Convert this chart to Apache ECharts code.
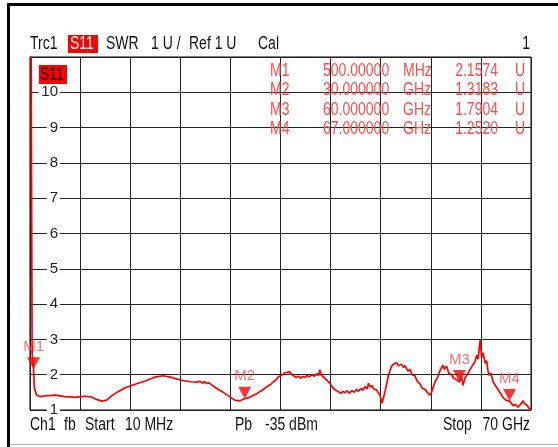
<!DOCTYPE html>
<html>
<head>
<meta charset="utf-8">
<title>Trc1 S11 SWR</title>
<script src="https://cdn.jsdelivr.net/npm/echarts@6/dist/echarts.min.js"></script>
<style>
html, body { margin: 0; padding: 0; background: #fff; }
#swr-chart { width: 558px; height: 447px; }
</style>
</head>
<body>
<div id="swr-chart"></div>
<script>
// trace data, frequency in GHz, SWR in U
var freqGHz = [0.01, 0.3, 0.5, 0.61, 0.94, 1.41, 2.1, 2.8, 3.5, 4.2, 4.9, 5.6, 6.3, 7.0, 7.7, 8.6, 9.3, 10.0, 10.7, 11.4,
    12.3, 13.3, 14.7, 16.1, 17.4, 18.6, 19.6, 21.0, 22.4, 23.2, 23.8, 24.1, 24.4, 24.7, 25.0, 25.4, 26.1, 27.0, 27.9, 28.6,
    29.3, 30.0, 30.6, 31.2, 31.6, 32.1, 32.6, 33.1, 33.6, 34.0, 34.4, 34.7, 35.2, 35.5, 35.9, 36.1, 36.3, 36.6, 36.9, 37.2,
    37.5, 37.8, 38.1, 38.4, 38.7, 39.0, 39.4, 39.7, 40.1, 40.3, 40.5, 40.7, 41.0, 41.4, 41.7, 42.0, 42.4, 42.8, 43.1, 43.4,
    43.7, 44.0, 44.3, 44.6, 45.0, 45.3, 45.6, 45.9, 46.2, 46.5, 46.8, 47.1, 47.3, 47.5, 47.8, 48.0, 48.4, 48.7, 48.9, 49.2,
    49.6, 50.1, 50.5, 50.8, 51.2, 51.5, 51.9, 52.2, 52.4, 52.8, 53.1, 53.4, 53.8, 54.1, 54.5, 54.8, 55.2, 55.5, 55.9, 56.1,
    56.3, 56.6, 57.0, 57.3, 57.7, 57.9, 58.2, 58.5, 58.9, 59.2, 59.6, 60.0, 60.3, 60.5, 60.8, 61.1, 61.5, 61.8, 62.2, 62.4,
    62.6, 62.9, 63.1, 63.3, 63.6, 63.8, 64.0, 64.2, 64.4, 64.7, 65.0, 65.4, 65.7, 66.1, 66.5, 67.0, 67.3, 67.5, 67.8, 68.2,
    68.5, 68.9, 69.1, 69.4, 69.7, 70.0];
var swrVal = [20, 2.6, 2.157, 1.62, 1.42, 1.38, 1.40, 1.41, 1.42, 1.40, 1.38, 1.37, 1.36, 1.38, 1.39, 1.37, 1.30, 1.25, 1.28, 1.40,
    1.52, 1.63, 1.73, 1.82, 1.93, 1.97, 1.93, 1.85, 1.80, 1.79, 1.81, 1.76, 1.80, 1.75, 1.77, 1.71, 1.61, 1.50, 1.38, 1.28,
    1.26, 1.318, 1.35, 1.42, 1.45, 1.52, 1.58, 1.66, 1.72, 1.80, 1.86, 1.94, 1.99, 2.04, 2.07, 2.02, 2.08, 2.00, 1.96, 1.92,
    1.96, 1.90, 1.95, 1.92, 1.98, 1.94, 2.00, 1.95, 2.03, 1.97, 2.14, 1.98, 1.94, 1.86, 1.80, 1.72, 1.61, 1.55, 1.52, 1.47,
    1.53, 1.49, 1.54, 1.48, 1.55, 1.50, 1.58, 1.53, 1.61, 1.56, 1.66, 1.60, 1.76, 1.65, 1.70, 1.60, 1.57, 1.48, 1.42, 1.19,
    1.52, 1.99, 2.23, 2.30, 2.34, 2.25, 2.30, 2.20, 2.26, 2.10, 2.15, 2.00, 1.96, 1.82, 1.74, 1.62, 1.59, 1.50, 1.42, 1.50,
    1.62, 1.80, 1.94, 2.12, 2.27, 2.15, 2.25, 2.05, 2.00, 1.90, 1.86, 1.79, 1.95, 1.70, 1.92, 2.00, 2.15, 2.25, 2.38, 2.55,
    2.45, 2.98, 2.50, 2.62, 2.32, 2.40, 2.10, 1.98, 2.05, 1.80, 1.70, 1.58, 1.48, 1.35, 1.28, 1.252, 1.18, 1.12, 1.16, 1.08,
    1.15, 1.26, 1.18, 1.14, 1.06, 1.0];

// markers
var markerNames = ['M1', 'M2', 'M3', 'M4'];
var markerFreq = [0.5, 30, 60, 67];
var markerSwr = [2.1574, 1.3183, 1.7904, 1.2520];
var markerFreqText = ['500.00000', '30.000000', '60.000000', '67.000000'];
var markerUnit = ['MHz', 'GHz', 'GHz', 'GHz'];

// axes
var xMin = 0, xMax = 70, xStep = 7;
var yMin = 1, yMax = 11, yStep = 1;

var FONT = 'Liberation Sans, Arial, sans-serif';
var MARK_RED = '#ff4a4a';

function SwrChart() {
    this.init();
}
SwrChart.prototype = {
    constructor: SwrChart,
    init: function () {
        var that = this;
        that.chart = echarts.init(document.getElementById('swr-chart'), null, {renderer: 'canvas'});
        that.chart.setOption(that.getOption());
    },
    // text helper
    txt: function (s, x, y, color, align, size) {
        return {
            type: 'text', x: x, y: y, scaleY: 1.25, z: 10,
            style: {
                text: s, fill: color || '#111', textAlign: align || 'left', textVerticalAlign: 'middle',
                font: (size || 14) + 'px ' + FONT
            }
        };
    },
    getGraphic: function () {
        var that = this;
        var g = [];
        // frame
        g.push({type: 'rect', shape: {x: 7, y: 3, width: 551, height: 3}, style: {fill: '#000'}});
        g.push({type: 'rect', shape: {x: 7, y: 3, width: 3, height: 444}, style: {fill: '#000'}});
        g.push({type: 'rect', shape: {x: 10, y: 444, width: 548, height: 1}, style: {fill: '#b0b0b0'}});
        // header
        g.push(that.txt('Trc1', 30, 44));
        g.push({type: 'rect', shape: {x: 68, y: 35, width: 30, height: 18}, style: {fill: '#ff0000'}});
        g.push(that.txt('S11', 70, 44, '#fff'));
        g.push(that.txt('SWR', 106, 44));
        g.push(that.txt('1 U /', 151, 44));
        g.push(that.txt('Ref 1 U', 189, 44));
        g.push(that.txt('Cal', 258, 44));
        g.push(that.txt('1', 530, 44, '#111', 'right'));
        // trace label in plot
        g.push({type: 'rect', shape: {x: 39, y: 65, width: 28, height: 19}, style: {fill: '#ff0000'}, z: 9});
        g.push(that.txt('S11', 40, 75, '#000'));
        // marker table
        for (var i = 0; i < markerNames.length; i++) {
            var ty = 71 + i * 19.5;
            g.push(that.txt(markerNames[i], 270, ty, MARK_RED));
            g.push(that.txt(markerFreqText[i], 323, ty, MARK_RED));
            g.push(that.txt(markerUnit[i], 403, ty, MARK_RED));
            g.push(that.txt(markerSwr[i].toFixed(4), 498, ty, MARK_RED, 'right'));
            g.push(that.txt('U', 515, ty, MARK_RED));
        }
        // footer
        g.push(that.txt('Ch1', 30, 425));
        g.push(that.txt('fb', 64, 425));
        g.push(that.txt('Start', 85, 425));
        g.push(that.txt('10 MHz', 125, 425));
        g.push(that.txt('Pb', 235, 425));
        g.push(that.txt('-35 dBm', 265, 425));
        g.push(that.txt('Stop', 443, 425));
        g.push(that.txt('70 GHz', 530, 425, '#111', 'right'));
        return g;
    },
    getOption: function () {
        var that = this;
        var trace = [];
        for (var i = 0; i < freqGHz.length; i++) {
            trace.push([freqGHz[i], swrVal[i]]);
        }
        var marks = [];
        for (var j = 0; j < markerNames.length; j++) {
            marks.push({value: [markerFreq[j], markerSwr[j]], name: markerNames[j]});
        }
        return {
            animation: false,
            backgroundColor: '#fff',
            grid: {
                left: 30, right: 27, top: 57, bottom: 37,
                show: true, borderColor: '#000', borderWidth: 1
            },
            xAxis: {
                type: 'value', min: xMin, max: xMax, interval: xStep,
                axisLine: {show: false}, axisTick: {show: false}, axisLabel: {show: false},
                splitLine: {show: true, lineStyle: {color: '#222', width: 1}}
            },
            yAxis: {
                type: 'value', min: yMin, max: yMax, interval: yStep,
                axisLine: {show: false}, axisTick: {show: false},
                axisLabel: {
                    inside: true, margin: 30, align: 'right', showMaxLabel: false,
                    color: '#222', fontSize: 15, fontFamily: FONT,
                    backgroundColor: '#fff', padding: [0, 2, 0, 3]
                },
                splitLine: {show: true, lineStyle: {color: '#222', width: 1}}
            },
            series: [
                {
                    type: 'line', data: trace, showSymbol: false, clip: true, z: 3,
                    lineStyle: {color: '#ff0000', width: 1.7}
                },
                {
                    type: 'scatter', data: marks, z: 4,
                    symbol: 'triangle', symbolRotate: 180, symbolSize: [13, 12], symbolOffset: [0, -6],
                    itemStyle: {color: '#ff0000'},
                    label: {
                        show: true, position: 'top', distance: 3, formatter: '{b}',
                        color: MARK_RED, fontSize: 15, fontFamily: FONT
                    }
                }
            ],
            graphic: that.getGraphic()
        };
    }
};

var SwrChartIns = new SwrChart();
</script>
</body>
</html>
